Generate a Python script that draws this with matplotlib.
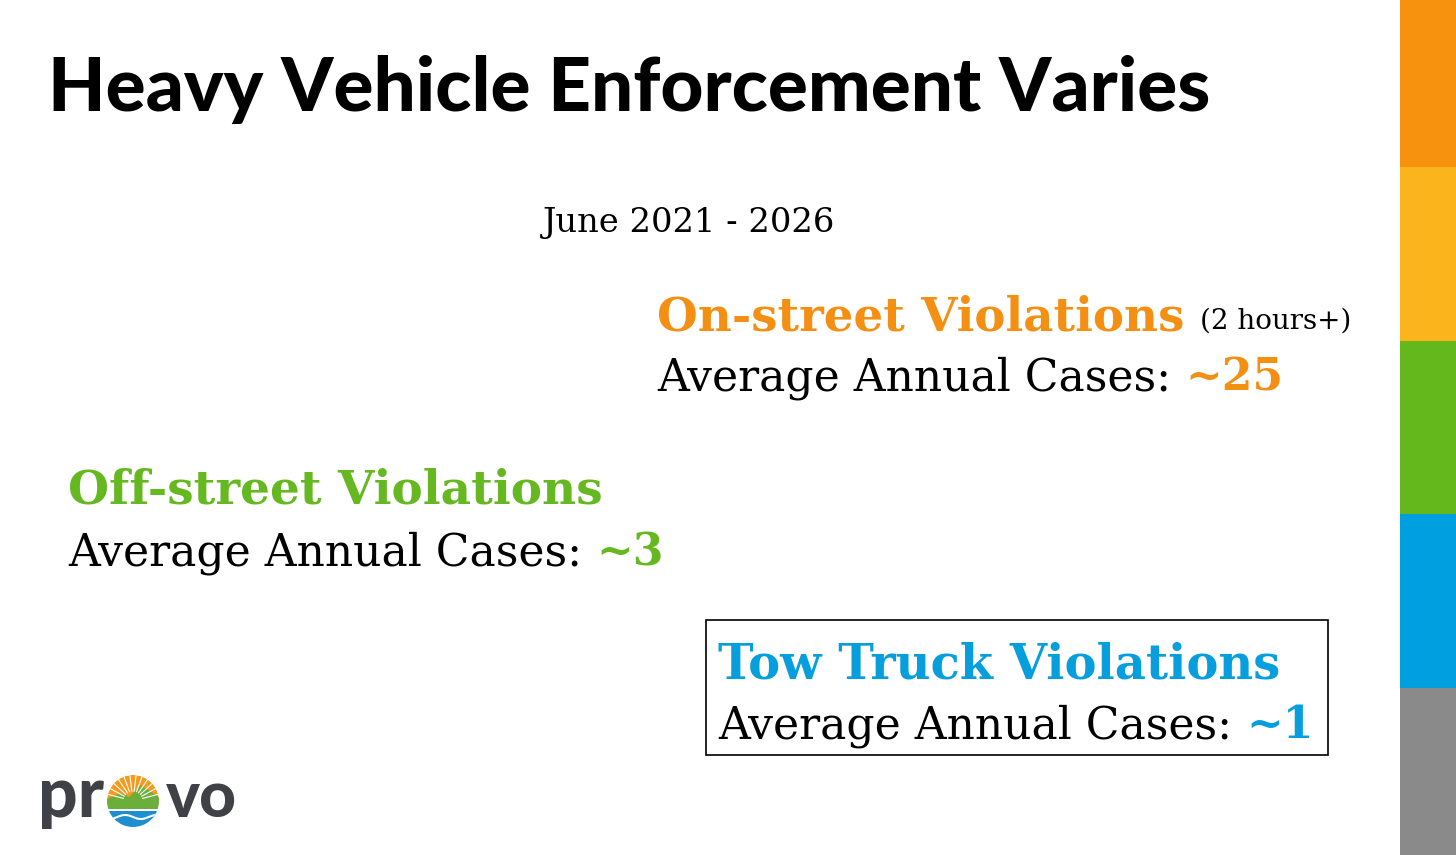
import numpy as np
import matplotlib
matplotlib.use("Agg")
import matplotlib.pyplot as plt
from matplotlib.patches import Rectangle, Circle, Wedge, Polygon

W, H = 1456, 855

# ── Slide content ─────────────────────────────────────────────────────────────
title = "Heavy Vehicle Enforcement Varies"
period = "June 2021 - 2026"
categories = ["On-street Violations", "Off-street Violations", "Tow Truck Violations"]
notes = ["(2 hours+)", "", ""]
avg_cases = [25, 3, 1]
cat_colors = ["#F39014", "#66B821", "#069EDC"]
stripe_colors = ["#F7920E", "#FBB41B", "#64B81C", "#009FE0", "#8A8A8A"]

SERIF = "DejaVu Serif"
TITLE_FONT = ["Lato", "DejaVu Sans"]

fig = plt.figure(figsize=(W / 100, H / 100), dpi=100)
ax = fig.add_axes([0, 0, 1, 1])
ax.set_xlim(0, W)
ax.set_ylim(H, 0)
ax.axis("off")
renderer = fig.canvas.get_renderer()


def fit(txt, width):
    """Scale a text's font so it spans roughly `width` pixels."""
    bb = txt.get_window_extent(renderer)
    txt.set_fontsize(txt.get_fontsize() * width / bb.width)
    return txt


def right_edge(txt):
    bb = txt.get_window_extent(renderer)
    return bb.x1


# ── Side stripes ──────────────────────────────────────────────────────────────
edges = [0, 167, 341, 514, 688, H]
for c, y0, y1 in zip(stripe_colors, edges[:-1], edges[1:]):
    ax.add_patch(Rectangle((1400, y0), W - 1400, y1 - y0, color=c, lw=0))

# ── Title and subtitle ────────────────────────────────────────────────────────
t = ax.text(48, 111, title, family=TITLE_FONT, fontweight="black",
            fontsize=50, va="baseline", ha="left", color="black")
fit(t, 1164)
s = ax.text(543, 232, period, family=SERIF, fontsize=24, va="baseline",
            color="black")
fit(s, 293)

# ── Category blocks ───────────────────────────────────────────────────────────
blocks = [
    # x, heading baseline, body baseline, heading width, body width
    (657, 330, 390, 528, 513),
    (68, 503, 565, 534, 513),
    (718, 678, 738, 562, 513),
]
for (x, yb1, yb2, hw, bw), cat, note, val, col in zip(
        blocks, categories, notes, avg_cases, cat_colors):
    h = ax.text(x, yb1, cat, family=SERIF, fontweight="bold", fontsize=36,
                color=col, va="baseline")
    fit(h, hw)
    if note:
        ax.text(1200, yb1 - 1, note, family=SERIF, fontsize=20,
                color="black", va="baseline")
    b = ax.text(x, yb2, "Average Annual Cases:", family=SERIF, fontsize=36,
                color="black", va="baseline")
    fit(b, bw)
    fig.canvas.draw()
    xe = ax.transData.inverted().transform((right_edge(b), 0))[0]
    ax.text(xe + 14, yb2, f"~{val}", family=SERIF, fontweight="bold",
            fontsize=b.get_fontsize(), color=col, va="baseline")

# box round the tow truck block
ax.add_patch(Rectangle((706, 620), 622, 135, fill=False, ec="black", lw=1.2))

# ── Provo logo ────────────────────────────────────────────────────────────────
logo_gray = "#3F4146"
p1 = ax.text(38, 817, "pr", family=["Lato", "DejaVu Sans"], fontweight="black",
             fontsize=46, color=logo_gray, va="baseline")
fit(p1, 66)
p2 = ax.text(166, 817, "vo", family=["Lato", "DejaVu Sans"], fontweight="black",
             fontsize=46, color=logo_gray, va="baseline")
fit(p2, 71)
cx, cy, r = 133, 801, 26
clip = Circle((cx, cy), r, transform=ax.transData)
ax.add_patch(Circle((cx, cy), r, color="white", lw=0))
sun = Wedge((cx, cy), r, 180, 360, color="#F49A1E", lw=0)
sun.set_clip_path(clip)
ax.add_patch(sun)
for ang in np.linspace(195, 345, 12):
    a = np.radians(ang)
    ax.plot([cx + 10 * np.cos(a), cx + r * np.cos(a)],
            [cy + 10 * np.sin(a), cy + r * np.sin(a)],
            color="white", lw=0.8, clip_path=clip)
mountain = Polygon([(cx - r, cy - 2), (cx - 12, cy - 8), (cx - 4, cy - 4),
                    (cx + 8, cy - 16), (cx + r, cy - 4), (cx + r, cy + 8),
                    (cx - r, cy + 8)], closed=True, color="#6BAF3A", lw=0)
mountain.set_clip_path(clip)
ax.add_patch(mountain)
water = Rectangle((cx - r, cy + 10), 2 * r, r, color="#1D8FCF", lw=0)
water.set_clip_path(clip)
ax.add_patch(water)
xs = np.linspace(cx - r, cx + r, 60)
ax.plot(xs, cy + 16 + 2 * np.sin((xs - cx) / 5), color="white", lw=1.5,
        clip_path=clip)

fig.savefig("out.png", dpi=100)
